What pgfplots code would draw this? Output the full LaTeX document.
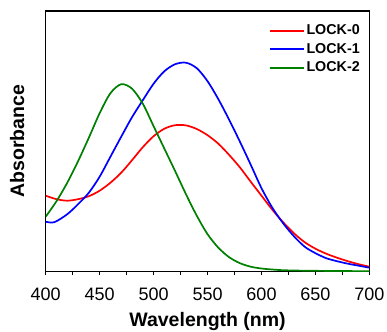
\documentclass[border=0pt]{standalone}
\usepackage{fontspec}
\setmainfont{Liberation Sans}
\usepackage{pgfplots}
\pgfplotsset{compat=1.18}
\definecolor{cred}{RGB}{255,0,0}
\definecolor{cblue}{RGB}{0,0,255}
\definecolor{cgreen}{RGB}{0,128,0}
\begin{document}
\begin{tikzpicture}
\path[use as bounding box] (-45.7pt,-59.3pt) rectangle (341.3pt,271.7pt);
\begin{axis}[
  scale only axis,
  width=323.7pt, height=260.7pt,
  xmin=400, xmax=700, ymin=0, ymax=260.7,
  xtick={400,450,...,700},
  minor x tick num=1,
  ytick=\empty,
  xtick pos=lower,
  tick align=outside,
  major tick length=3.5pt,
  minor tick length=3.5pt,
  every tick/.style={black, line width=1pt},
  axis line style={line width=1.2pt},
  /pgf/number format/assume math mode=true,
  xticklabel style={font=\fontsize{18}{20}\selectfont, anchor=base, yshift=-25pt},
  every axis x label/.style={at={(axis description cs:0.5,-0.211)}, anchor=base},
  every axis y label/.style={at={(axis description cs:-0.067,0.5)}, rotate=90, anchor=base},
  label style={font=\bfseries\fontsize{19.5}{23}\selectfont},
  xlabel={Wavelength (nm)},
  ylabel={Absorbance},
  legend style={draw=none, fill=none, at={(0.688,0.955)}, anchor=north west,
    font=\bfseries\fontsize{14.3}{17}\selectfont, inner sep=0pt, row sep=3pt,
    cells={anchor=west}},
  legend image code/.code={\draw[#1, line width=1.9pt] (0pt,0pt) -- (34pt,0pt);},
  every axis plot/.append style={line width=1.7pt, smooth},
]
\addplot[cred] coordinates {
(400,76) (410,72.5) (420,71) (430,72.5) (440,75.5) (450,81) (460,89) (470,99)
(480,111.5) (490,124.5) (500,135.5) (510,143) (520,146.5) (530,146.3) (540,142.7)
(550,136.5) (560,128) (570,116.8) (580,104.3) (590,90) (600,76) (610,62) (620,49.5)
(630,38.5) (640,29.5) (650,23) (660,18) (670,14) (680,10.5) (690,7.5) (700,5)
};
\addlegendentry{LOCK-0}
\addplot[cblue] coordinates {
(400,50) (408,49.5) (420,57.5) (430,67.5) (440,79) (450,95) (460,115) (470,135)
(480,154.5) (490,171.5) (500,188) (510,200.5) (520,207.5) (530,209) (540,203.5)
(550,190.5) (560,172.5) (570,152) (580,130) (590,107) (600,83.5) (610,64) (620,48.5)
(630,35.5) (640,25) (650,18.5) (660,13.5) (670,10.5) (680,8) (690,6) (700,4)
};
\addlegendentry{LOCK-1}
\addplot[cgreen] coordinates {
(400,55) (410,70.5) (420,89) (430,110.5) (440,134) (450,158.5) (460,178.5) (470,187.5)
(480,183) (490,168) (500,145.5) (510,123) (520,100.5) (530,77.5) (540,56) (550,37.5)
(560,24) (570,14.5) (580,8.5) (590,5) (600,3.2) (610,2.2) (620,1.5) (640,1)
(670,0.7) (700,0.5)
};
\addlegendentry{LOCK-2}
\end{axis}
\end{tikzpicture}
\end{document}
